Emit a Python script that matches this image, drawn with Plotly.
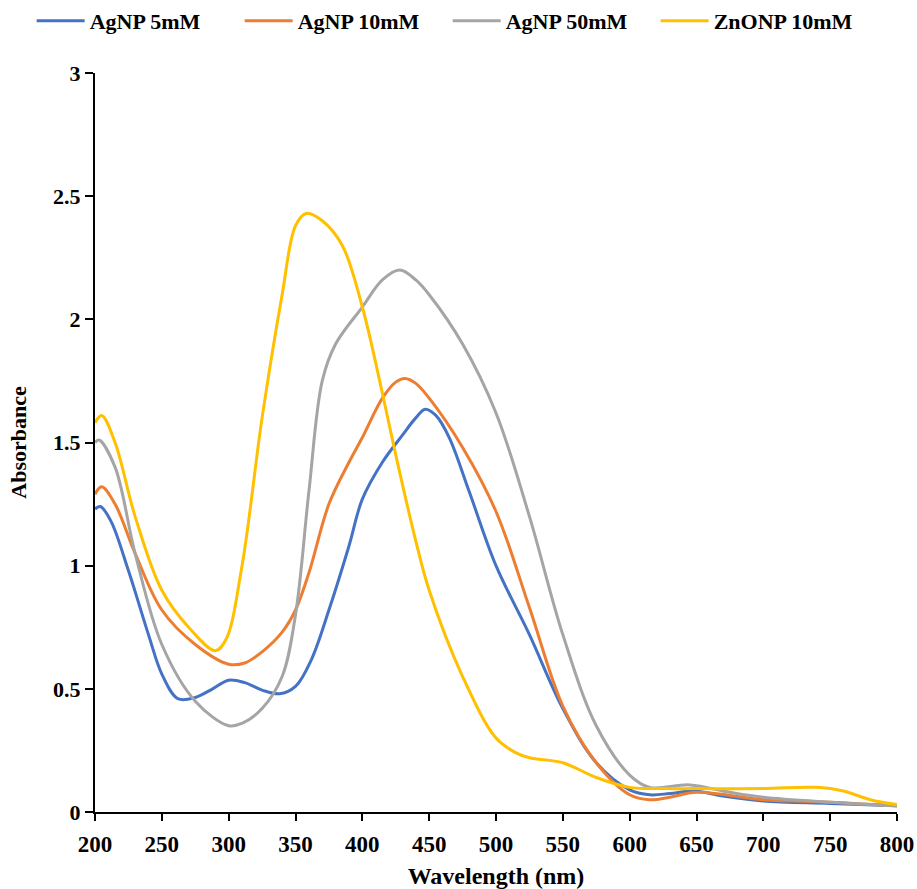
import plotly.graph_objects as go

# Wavelength (nm) sample points for each series
wl_ag5 = [200, 204, 212, 225, 240, 250, 262, 275, 288, 300, 312, 325, 338, 350, 362, 375, 390, 400, 415, 430, 440, 447, 455, 465, 480, 500, 525, 550, 575, 600, 615, 630, 648, 670, 700, 750, 800]
ag5 = [1.23, 1.24, 1.18, 0.98, 0.72, 0.56, 0.46, 0.465, 0.50, 0.535, 0.525, 0.495, 0.48, 0.51, 0.62, 0.82, 1.08, 1.27, 1.42, 1.53, 1.60, 1.635, 1.61, 1.52, 1.30, 1.00, 0.72, 0.42, 0.20, 0.09, 0.07, 0.075, 0.085, 0.065, 0.045, 0.035, 0.025]

wl_ag10 = [200, 205, 215, 230, 250, 275, 300, 312, 325, 340, 350, 360, 375, 390, 400, 415, 425, 432, 440, 450, 475, 500, 525, 550, 575, 600, 615, 630, 650, 700, 750, 800]
ag10 = [1.29, 1.32, 1.25, 1.05, 0.82, 0.68, 0.60, 0.605, 0.65, 0.73, 0.82, 0.97, 1.25, 1.42, 1.52, 1.68, 1.745, 1.76, 1.74, 1.68, 1.48, 1.22, 0.83, 0.43, 0.20, 0.07, 0.05, 0.06, 0.08, 0.05, 0.04, 0.025]

wl_ag50 = [200, 203, 215, 230, 250, 275, 300, 310, 325, 340, 350, 360, 370, 380, 400, 415, 428, 440, 450, 475, 500, 525, 550, 575, 600, 615, 645, 675, 700, 750, 800]
ag50 = [1.50, 1.51, 1.40, 1.05, 0.68, 0.45, 0.35, 0.36, 0.42, 0.55, 0.80, 1.30, 1.75, 1.90, 2.05, 2.16, 2.20, 2.16, 2.10, 1.90, 1.62, 1.20, 0.72, 0.35, 0.15, 0.10, 0.11, 0.08, 0.06, 0.04, 0.025]

wl_zn = [200, 205, 215, 230, 250, 270, 290, 298, 310, 325, 340, 350, 358, 370, 385, 400, 415, 425, 440, 450, 475, 500, 515, 525, 550, 575, 600, 625, 650, 700, 740, 760, 780, 800]
zn = [1.58, 1.61, 1.50, 1.20, 0.90, 0.75, 0.655, 0.70, 1.00, 1.60, 2.10, 2.38, 2.43, 2.40, 2.30, 2.05, 1.70, 1.45, 1.10, 0.90, 0.55, 0.30, 0.24, 0.22, 0.20, 0.14, 0.10, 0.095, 0.095, 0.095, 0.10, 0.085, 0.05, 0.03]

names = ["AgNP 5mM", "AgNP 10mM", "AgNP 50mM", "ZnONP 10mM"]
colors = ["#4472C4", "#ED7D31", "#A5A5A5", "#FFC000"]
series = [(wl_ag5, ag5), (wl_ag10, ag10), (wl_ag50, ag50), (wl_zn, zn)]

FONT = "Liberation Serif"

fig = go.Figure()
for (x, y), n, c in zip(series, names, colors):
    fig.add_trace(go.Scatter(x=x, y=y, name=n, mode="lines",
                             line=dict(color=c, width=3, shape="spline", smoothing=1.0)))

fig.update_layout(
    width=917, height=889,
    margin=dict(l=95, r=20, t=73, b=77, autoexpand=False),
    paper_bgcolor="white", plot_bgcolor="white",
    font=dict(family=FONT, size=22, color="black"),
    legend=dict(orientation="h", xref="paper", yref="paper",
                x=-0.079, y=1.0988, xanchor="left", yanchor="top",
                entrywidth=145, entrywidthmode="pixels",
                font=dict(family=FONT, size=22, color="black", weight="bold"),
                itemwidth=48),
)
fig.update_xaxes(range=[200, 800], tickvals=list(range(200, 801, 50)),
                 showgrid=False, zeroline=False, showline=True, linecolor="black", linewidth=2,
                 ticks="outside", ticklen=7, tickwidth=2, tickcolor="black",
                 tickfont=dict(family=FONT, size=23, weight="bold"), ticklabelstandoff=3,
                 title=dict(text="Wavelength (nm)", font=dict(family=FONT, size=24, weight="bold"), standoff=18),
                 automargin=False)
fig.update_yaxes(range=[0, 3], tickvals=[0, 0.5, 1, 1.5, 2, 2.5, 3],
                 ticktext=["0", "0.5", "1", "1.5", "2", "2.5", "3"],
                 showgrid=False, zeroline=False, showline=True, linecolor="black", linewidth=2,
                 ticks="outside", ticklen=8, tickwidth=2, tickcolor="black",
                 tickfont=dict(family=FONT, size=22, weight="bold"),
                 title=dict(text="Absorbance", font=dict(family=FONT, size=22, weight="bold"), standoff=20),
                 automargin=False)

fig.write_html("out.html")
